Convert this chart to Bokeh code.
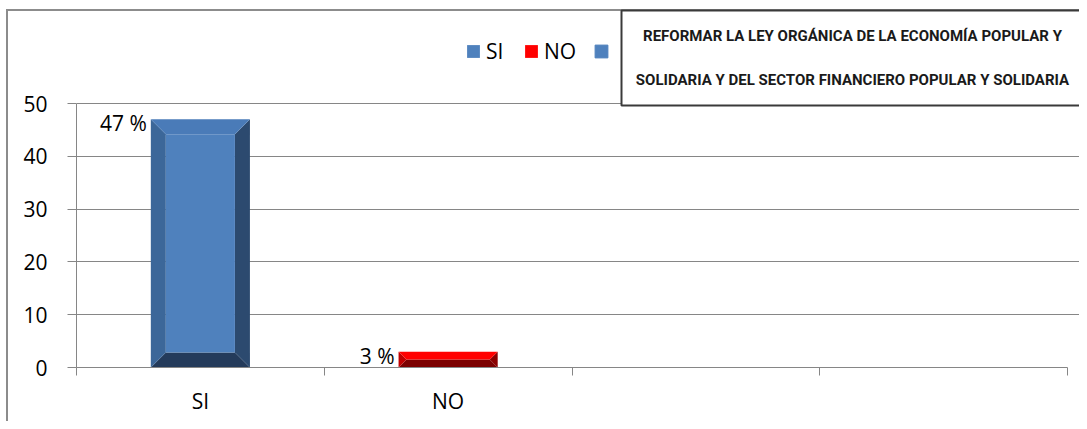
from bokeh.plotting import figure
from bokeh.models import (Range1d, FixedTicker, Label, Legend, LegendItem, BoxAnnotation)
from bokeh.core.properties import value
from bokeh.embed import file_html
from bokeh.resources import INLINE

# ---------------- data ----------------
slots = ["SI", "NO", "", ""]          # category slots on the x axis
categories = ["SI", "NO"]
values = [47, 3]
value_labels = ["47 %", "3 %"]
y_ticks = [0, 10, 20, 30, 40, 50]
title_text = ("REFORMAR LA LEY ORGÁNICA DE LA ECONOMÍA POPULAR Y\n"
              "SOLIDARIA Y DEL SECTOR FINANCIERO POPULAR Y SOLIDARIA")

# ---------------- layout / style ----------------
FONT = "Open Sans"
TFONT = "Liberation Sans Narrow, Roboto"
W, H = 1079, 421
AX_L, AX_R, AX_B, AX_T = 76, 1067, 367, 103      # plot-area edges in canvas px
ML, MB = AX_L, H - AX_B
FW, FH = W - ML, AX_B
Y_MAX = y_ticks[-1]
px_x = (AX_R - AX_L) / len(slots)
px_y = (AX_B - AX_T) / Y_MAX


def dx(px):
    return (px - AX_L) / px_x


def dy(py):
    return (AX_B - py) / px_y


GRID = "#868686"
BORDER = "#8c8c8c"
palettes = {
    "SI": dict(face="#4f81bd", top="#4a7bb8", left="#3c6799", right="#2c4a6f", bottom="#243b5b"),
    "NO": dict(face="#ff0000", top="#ff0000", left="#c00000", right="#8a0000", bottom="#7c0000"),
}

p = figure(width=W, height=H, output_backend="svg", toolbar_location=None,
           x_range=Range1d(0, FW / px_x), y_range=Range1d(0, FH / px_y),
           min_border_left=ML, min_border_right=0, min_border_top=0, min_border_bottom=MB)
p.outline_line_color = None
p.background_fill_alpha = 0
p.border_fill_alpha = 0
p.styles = {"background": (f"linear-gradient({BORDER},{BORDER}) 6px 9px / 2px 100% no-repeat, "
                           f"linear-gradient({BORDER},{BORDER}) 6px 9px / 100% 2px no-repeat, white")}

bar_w = 0.4
legend_items = []
for i, (cat, v) in enumerate(zip(categories, values)):
    c = palettes[cat]
    xc = slots.index(cat) + 0.5
    x0, x1 = xc - bar_w / 2, xc + bar_w / 2
    bev_px = min(15.0, v * px_y / 2.0)
    bx, by = bev_px / px_x, bev_px / px_y
    p.patch([x0, x1, x1 - bx, x0 + bx], [0, 0, by, by], color=c["bottom"], line_width=0)
    p.patch([x0, x0 + bx, x0 + bx, x0], [0, by, v - by, v], color=c["left"], line_width=0)
    p.patch([x1, x1, x1 - bx, x1 - bx], [0, v, v - by, by], color=c["right"], line_width=0)
    p.patch([x0, x1, x1 - bx, x0 + bx], [v, v, v - by, v - by], color=c["top"], line_width=0)
    face = p.quad(left=[x0 + bx], right=[x1 - bx], bottom=[by], top=[max(by, v - by)],
                  color=c["face"], line_width=0)
    legend_items.append(LegendItem(label=cat, renderers=[face]))
    p.text(x=[x0], y=[v], text=[value_labels[i]], text_align="right", text_baseline="middle",
           x_offset=-4, y_offset=4, text_font=value(FONT), text_font_size="21px", text_color="black")

# third (unlabelled) legend entry
extra = p.quad(left=[-10], right=[-9], bottom=[-10], top=[-9], color=palettes["SI"]["face"])
legend_items.append(LegendItem(label=" ", renderers=[extra]))

legend = Legend(items=legend_items, orientation="horizontal", location=(465 - AX_L, AX_B - 65),
                glyph_width=16, glyph_height=16, label_standoff=5, spacing=17,
                padding=0, margin=0, border_line_color=None, background_fill_alpha=0,
                label_text_font=FONT, label_text_font_size="21px", label_height=20,
                label_text_color="black")
p.add_layout(legend, "center")

# axes
p.yaxis.ticker = FixedTicker(ticks=y_ticks)
p.yaxis.bounds = (0, Y_MAX)
p.xaxis.ticker = FixedTicker(ticks=[k + 0.5 for k in range(len(slots)) if slots[k]],
                             minor_ticks=list(range(len(slots) + 1)))
p.xaxis.bounds = (0, len(slots))
p.xaxis.major_label_overrides = {k + 0.5: s for k, s in enumerate(slots) if s}
for ax in (p.xaxis[0], p.yaxis[0]):
    ax.axis_line_color = GRID
    ax.major_label_text_font = FONT
    ax.major_label_text_font_size = "21px"
    ax.major_label_text_color = "black"
    ax.minor_tick_in = 0
    ax.major_tick_in = 0
p.yaxis.major_tick_out = 9
p.yaxis.major_tick_line_color = GRID
p.yaxis.minor_tick_line_color = None
p.yaxis.major_label_standoff = 20
p.xaxis.major_tick_out = 0
p.xaxis.major_tick_line_color = None
p.xaxis.minor_tick_out = 8
p.xaxis.minor_tick_line_color = GRID
p.xaxis.major_label_standoff = 11
p.xgrid.grid_line_color = None
p.ygrid.grid_line_color = GRID
p.ygrid.grid_line_width = 1

# title box
box = BoxAnnotation(left=dx(621), right=dx(1110), top=dy(10), bottom=dy(105),
                    fill_color="white", fill_alpha=1, line_color="#3a3a3a", line_alpha=1,
                    line_width=2)
p.add_layout(box)
title = Label(x=dx(852), y=dy(57.5), text=title_text, text_align="center", text_baseline="middle",
              text_font=TFONT, text_font_style="bold", text_font_size="15px", text_color="#1a1a1a",
              text_line_height=2.42)
p.add_layout(title)

open("out.html", "w").write(file_html(p, INLINE))
